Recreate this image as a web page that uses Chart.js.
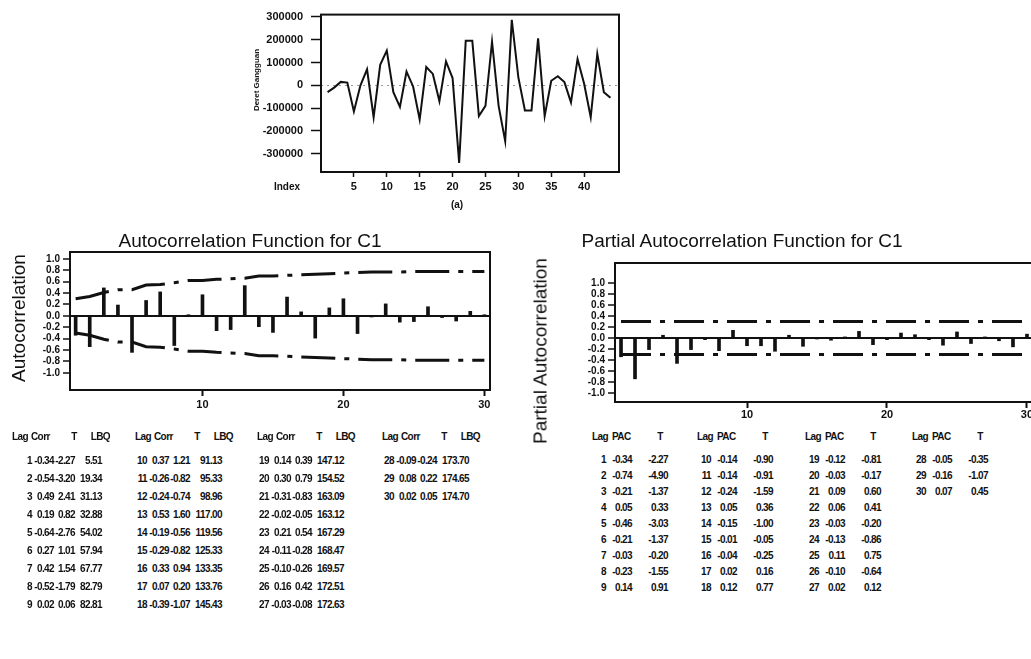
<!DOCTYPE html>
<html><head><meta charset="utf-8">
<script src="https://cdn.jsdelivr.net/npm/chart.js@4.4.0/dist/chart.umd.min.js"></script>
<style>
html,body{margin:0;padding:0;background:#fff;}
body{width:1031px;height:659px;overflow:hidden;position:relative;font-family:'Liberation Sans',Arial,sans-serif;color:#111}
canvas{position:absolute}
.t{position:absolute;white-space:nowrap;line-height:1}
.ttl{font-size:19px}
.tb{font-size:10px;font-weight:bold;letter-spacing:-0.6px}
.sm{font-size:10px;font-weight:bold}
.yt{font-size:8px;font-weight:bold}
</style></head><body>
<canvas id="c0" width="396" height="200" style="left:230px;top:0px"></canvas>
<canvas id="c1" width="500" height="172" style="left:0px;top:242px"></canvas>
<canvas id="c2" width="500" height="175" style="left:547px;top:253px"></canvas>
<script>
// ---------- data ----------
const seriesIndex = [1,2,3,4,5,6,7,8,9,10,11,12,13,14,15,16,17,18,19,20,21,22,23,24,25,26,27,28,29,30,31,32,33,34,35,36,37,38,39,40,41,42,43,44];
const seriesValues = [-30000,-10000,15000,12000,-115000,0,70000,-140000,90000,152000,-30000,-95000,60000,-5000,-150000,80000,50000,-70000,105000,32000,-340000,195000,195000,-135000,-90000,191000,-90000,-245000,287000,35000,-110000,-110000,206000,-135000,20000,40000,14000,-75000,115000,7000,-140000,138000,-30000,-55000];
const seriesYTicks = [-300000,-200000,-100000,0,100000,200000,300000];
const seriesXTicks = [5,10,15,20,25,30,35,40];

const lags = [1,2,3,4,5,6,7,8,9,10,11,12,13,14,15,16,17,18,19,20,21,22,23,24,25,26,27,28,29,30];
const acfCorr = [-0.34,-0.54,0.49,0.19,-0.64,0.27,0.42,-0.52,0.02,0.37,-0.26,-0.24,0.53,-0.19,-0.29,0.33,0.07,-0.39,0.14,0.30,-0.31,-0.02,0.21,-0.11,-0.10,0.16,-0.03,-0.09,0.08,0.02];
const acfT = [-2.27,-3.20,2.41,0.82,-2.76,1.01,1.54,-1.79,0.06,1.21,-0.82,-0.74,1.60,-0.56,-0.82,0.94,0.20,-1.07,0.39,0.79,-0.83,-0.05,0.54,-0.28,-0.26,0.42,-0.08,-0.24,0.22,0.05];
const acfLBQ = [5.51,19.34,31.13,32.88,54.02,57.94,67.77,82.79,82.81,91.13,95.33,98.96,117.00,119.56,125.33,133.35,133.76,145.43,147.12,154.52,163.09,163.12,167.29,168.47,169.57,172.51,172.63,173.70,174.65,174.70];
const acfUpper = [0.30,0.34,0.41,0.46,0.46,0.54,0.55,0.58,0.62,0.62,0.64,0.65,0.66,0.70,0.70,0.71,0.72,0.73,0.74,0.75,0.76,0.77,0.77,0.77,0.78,0.78,0.78,0.78,0.78,0.78];
const acfLower = [-0.30,-0.34,-0.41,-0.46,-0.46,-0.54,-0.55,-0.58,-0.62,-0.62,-0.64,-0.65,-0.66,-0.70,-0.70,-0.71,-0.72,-0.73,-0.74,-0.75,-0.76,-0.77,-0.77,-0.77,-0.78,-0.78,-0.78,-0.78,-0.78,-0.78];

const pacfVals = [-0.34,-0.74,-0.21,0.05,-0.46,-0.21,-0.03,-0.23,0.14,-0.14,-0.14,-0.24,0.05,-0.15,-0.01,-0.04,0.02,0.12,-0.12,-0.03,0.09,0.06,-0.03,-0.13,0.11,-0.10,0.02,-0.05,-0.16,0.07];
const pacfT = [-2.27,-4.90,-1.37,0.33,-3.03,-1.37,-0.20,-1.55,0.91,-0.90,-0.91,-1.59,0.36,-1.00,-0.05,-0.25,0.16,0.77,-0.81,-0.17,0.60,0.41,-0.20,-0.86,0.75,-0.64,0.12,-0.35,-1.07,0.45];
const pacfLimitLags = [1,30];
const pacfUpper = [0.30,0.30];
const pacfLower = [-0.30,-0.30];

const corrYTicks = [-1.0,-0.8,-0.6,-0.4,-0.2,0.0,0.2,0.4,0.6,0.8,1.0];
const lagTicks = [10,20,30];

// ---------- helpers ----------
Chart.defaults.font.family = "'Liberation Sans', Arial, sans-serif";
Chart.defaults.color = '#111';
const INK = '#111';
const fixedTicks = arr => scale => { scale.ticks = arr.map(v => ({value: v})); };
const boxPlugin = {id:'box', afterDatasetsDraw(chart){
  const a = chart.chartArea, c = chart.ctx;
  c.save(); c.strokeStyle = INK; c.lineWidth = 2;
  c.strokeRect(a.left, a.top, a.right - a.left, a.bottom - a.top);
  c.restore();
}};
const pts = (xs, ys) => xs.map((x, i) => ({x, y: ys[i]}));
const baseOpts = (padTop, padRight) => ({
  responsive:false, animation:false, devicePixelRatio:1,
  layout:{padding:{top:padTop, right:padRight, left:0, bottom:0}},
  plugins:{legend:{display:false}, tooltip:{enabled:false}, title:{display:false}}
});

// ---------- top series chart ----------
new Chart(document.getElementById('c0'), {
  type:'line',
  data:{datasets:[{data:pts(seriesIndex, seriesValues), borderColor:INK, borderWidth:2, pointRadius:0, tension:0, fill:false}]},
  options:Object.assign(baseOpts(10, 7), {
    scales:{
      x:{type:'linear', min:0, max:45.3, afterBuildTicks:fixedTicks(seriesXTicks), afterFit(s){s.height = 28;},
         grid:{drawOnChartArea:false, drawTicks:true, tickLength:5, tickColor:INK, tickWidth:1.5},
         border:{display:false},
         ticks:{font:{size:11, weight:'bold'}, padding:3, maxRotation:0, autoSkip:false}},
      y:{type:'linear', min:-380000, max:310000, afterBuildTicks:fixedTicks(seriesYTicks), afterFit(s){s.width = 91;},
         grid:{drawOnChartArea:true, color:c => (c.tick && c.tick.value === 0) ? '#999' : 'rgba(0,0,0,0)', lineWidth:1,
               drawTicks:true, tickLength:10, tickColor:INK, tickWidth:1.5},
         border:{display:false, dash:[2,4]},
         ticks:{font:{size:11, weight:'bold'}, padding:8, autoSkip:false, callback:v => String(v)}}
    }
  }),
  plugins:[boxPlugin]
});

// ---------- correlogram builder ----------
function correlogram(canvasId, vals, limLags, up, lo, dash, xmin, xmax, ymin, ymax, yW, xH, padTop, padRight, tickPad) {
  return new Chart(document.getElementById(canvasId), {
    type:'bar',
    data:{datasets:[
      {type:'bar', data:pts(lags, vals), backgroundColor:INK, borderWidth:0, barThickness:3, order:2},
      {type:'line', data:pts(limLags, up), borderColor:INK, borderWidth:3, borderDash:dash, pointRadius:0, tension:0, fill:false, order:1},
      {type:'line', data:pts(limLags, lo), borderColor:INK, borderWidth:3, borderDash:dash, pointRadius:0, tension:0, fill:false, order:1}
    ]},
    options:Object.assign(baseOpts(padTop, padRight), {
      scales:{
        x:{type:'linear', offset:false, min:xmin, max:xmax, afterBuildTicks:fixedTicks(lagTicks), afterFit(s){s.height = xH;},
           grid:{offset:false, drawOnChartArea:false, drawTicks:true, tickLength:6, tickColor:INK, tickWidth:2},
           border:{display:false},
           ticks:{font:{size:11, weight:'bold'}, padding:tickPad, maxRotation:0, autoSkip:false}},
        y:{type:'linear', min:ymin, max:ymax, afterBuildTicks:fixedTicks(corrYTicks), afterFit(s){s.width = yW;},
           grid:{drawOnChartArea:true, color:c => (c.tick && Math.abs(c.tick.value) < 1e-9) ? INK : 'rgba(0,0,0,0)', lineWidth:2,
                 drawTicks:true, tickLength:7, tickColor:INK, tickWidth:1.5},
           border:{display:false},
           ticks:{font:{size:10, weight:'bold'}, padding:3, autoSkip:false, callback:v => Number(v).toFixed(1)}}
      }
    }),
    plugins:[boxPlugin]
  });
}
correlogram('c1', acfCorr, lags, acfUpper, acfLower, [34,9,5,9], 0.6, 30.4, -1.30, 1.12, 70, 24, 10, 10, 2);
correlogram('c2', pacfVals, pacfLimitLags, pacfUpper, pacfLower, [30,9,5,9], 0.57, 30.43, -1.16, 1.36, 68, 26, 10, 14, 0);

// ---------- text ----------
function txt(s, x, y, align, cls, rot) {
  const d = document.createElement('div');
  d.className = 't ' + (cls || '');
  d.textContent = s;
  d.style.left = x + 'px'; d.style.top = y + 'px';
  const tx = align === 'right' ? '-100%' : align === 'center' ? '-50%' : '0';
  d.style.transform = `translate(${tx},-50%)` + (rot ? ` rotate(${rot}deg)` : '');
  document.body.appendChild(d);
  return d;
}
txt('Index', 287, 187, 'center', 'sm');
txt('(a)', 457, 205, 'center', 'sm');
txt('Deret Gangguan', 257, 80, 'center', 'yt', -90);
txt('Autocorrelation Function for C1', 250, 240, 'center', 'ttl');
txt('Partial Autocorrelation Function for C1', 742, 240, 'center', 'ttl');
txt('Autocorrelation', 18, 318, 'center', 'ttl', -90);
txt('Partial Autocorrelation', 540, 351, 'center', 'ttl', -90);

// ACF table
const acfBlockL = [12,135,257,382];
acfBlockL.forEach((L, b) => {
  const hy = 437;
  txt('Lag', L, hy, 'left', 'tb');
  txt('Corr', L + 19, hy, 'left', 'tb');
  txt('T', L + 62, hy, 'center', 'tb');
  txt('LBQ', L + 98, hy, 'right', 'tb');
  const sh = b === 0 ? 8 : 0;
  for (let k = 0; k < 9; k++) {
    const i = b * 9 + k;
    if (i >= lags.length) break;
    const y = 461 + 18 * k;
    txt(String(lags[i]), L + 12 + sh, y, 'right', 'tb');
    txt(acfCorr[i].toFixed(2), L + 34 + sh, y, 'right', 'tb');
    txt(acfT[i].toFixed(2), L + 55 + sh, y, 'right', 'tb');
    txt(acfLBQ[i].toFixed(2), L + (b === 0 ? 90 : 87), y, 'right', 'tb');
  }
});

// PACF table
const pacfBlockL = [592,697,805,912];
pacfBlockL.forEach((L, b) => {
  const hy = 437;
  txt('Lag', L, hy, 'left', 'tb');
  txt('PAC', L + 20, hy, 'left', 'tb');
  txt('T', L + 68, hy, 'center', 'tb');
  for (let k = 0; k < 9; k++) {
    const i = b * 9 + k;
    if (i >= lags.length) break;
    const y = 460 + 16 * k;
    txt(String(lags[i]), L + 14, y, 'right', 'tb');
    txt(pacfVals[i].toFixed(2), L + 40, y, 'right', 'tb');
    txt(pacfT[i].toFixed(2), L + 76, y, 'right', 'tb');
  }
});
</script>
</body></html>
